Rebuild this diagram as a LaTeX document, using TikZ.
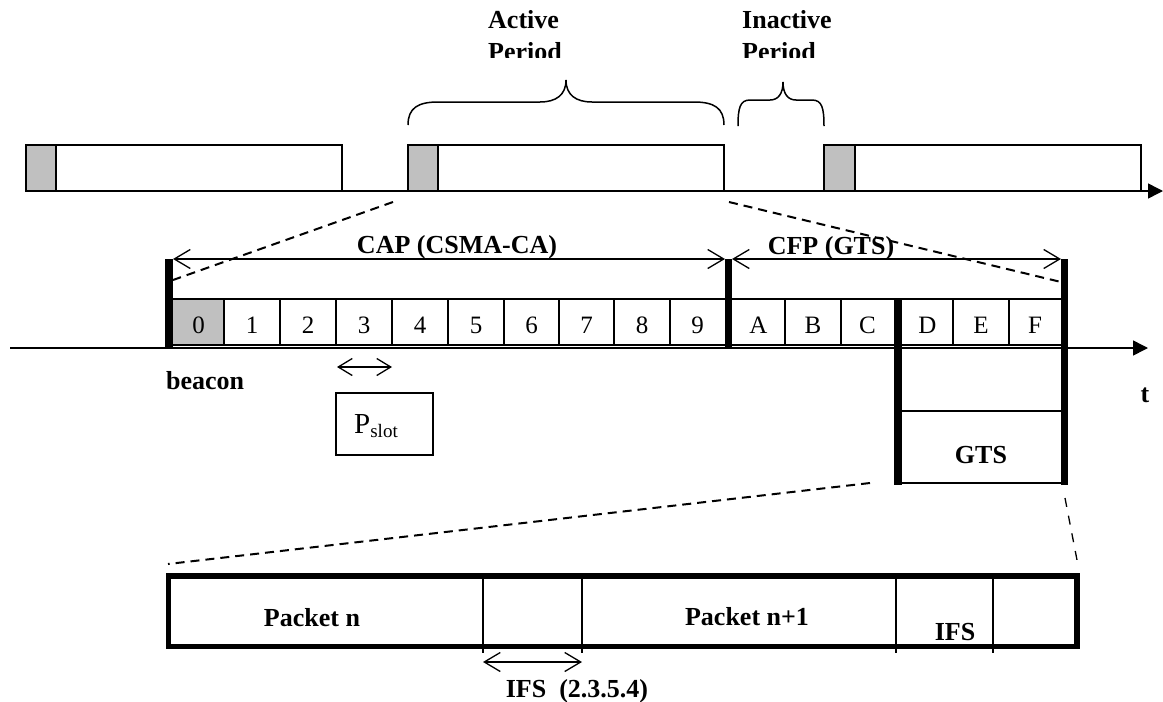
\documentclass[tikz,border=0pt]{standalone}
\usepackage{fontspec}
\setmainfont{Liberation Serif}
\usetikzlibrary{arrows.meta}
\definecolor{silver}{RGB}{192,192,192}
\begin{document}
\begin{tikzpicture}[x=1pt,y=-1pt,
  thin/.style={line width=1.5pt},
  barb/.style={line width=1.3pt,{Straight Barb[length=16pt,width=19pt]}-{Straight Barb[length=16pt,width=19pt]}},
  smallbarb/.style={line width=1.3pt,{Straight Barb[length=14pt,width=17pt]}-{Straight Barb[length=14pt,width=17pt]}},
  thickbar/.style={line width=7.5pt,line cap=butt},
  dashline/.style={line width=2pt,dash pattern=on 9pt off 6pt},
  lbl/.style={font=\fontsize{26}{30}\selectfont\bfseries,inner sep=0pt},
  dig/.style={font=\fontsize{25}{30}\selectfont,inner sep=0pt,anchor=base},
  axisarrow/.style={line width=1.5pt,-{Triangle[length=15pt,width=15pt]}}
]
\useasboundingbox (0,0) rectangle (1163,702);

% ---------- top timeline ----------
\draw[thin,fill=white] (26,145) rectangle (342,191);
\draw[thin,fill=silver] (26,145) rectangle (56,191);
\draw[thin,fill=white] (408,145) rectangle (724,191);
\draw[thin,fill=silver] (408,145) rectangle (438,191);
\draw[thin,fill=white] (824,145) rectangle (1141,191);
\draw[thin,fill=silver] (824,145) rectangle (855,191);
\coordinate (topstart) at (26,191);
\coordinate (topend) at (1163,191);
\draw[axisarrow] (topstart) -- (topend);

% braces
\draw[thin] (408,125) .. controls (408,108) and (418,102) .. (438,102) -- (540,102)
  .. controls (556,102) and (566,95) .. (566,80)
  .. controls (566,95) and (576,102) .. (592,102) -- (694,102)
  .. controls (714,102) and (724,108) .. (724,125);
\draw[thin] (738,126) .. controls (738,108) and (740,100) .. (750,100) -- (770,100)
  .. controls (778,100) and (783,94) .. (783,82)
  .. controls (783,94) and (788,100) .. (796,100) -- (812,100)
  .. controls (822,100) and (824,108) .. (824,126);

% period labels (second line clipped as in the original)
\node[lbl,anchor=base west] (act1) at (488,28) {Active};
\begin{scope}
  \clip (480,30) rectangle (600,57.5);
  \node[lbl,anchor=base west] (act2) at (488,60) {Period};
\end{scope}
\node[lbl,anchor=base west] (inact1) at (742,28) {Inactive};
\begin{scope}
  \clip (735,30) rectangle (860,57.5);
  \node[lbl,anchor=base west] (inact2) at (742,60) {Period};
\end{scope}

% zoom dashed lines top
\coordinate (z1a) at (393,202);
\coordinate (z1b) at (173,280);
\coordinate (z2a) at (729,202);
\coordinate (z2b) at (1061,282);
\draw[dashline] (z1a) -- (z1b);
\draw[dashline] (z2a) -- (z2b);

% ---------- superframe ----------
\coordinate (capL) at (173,259);
\coordinate (capR) at (725,259);
\coordinate (cfpL) at (732,259);
\coordinate (cfpR) at (1061,259);
\draw[barb] (capL) -- (capR);
\draw[barb] (cfpL) -- (cfpR);
\node[lbl,anchor=base] (cap) at (457,253) {CAP (CSMA-CA)};
\node[lbl,anchor=base] (cfp) at (831,254) {CFP (GTS)};

\fill[silver] (173,299) rectangle (224,345);
\draw[thin] (173,299) -- (1061,299);
\draw[thin] (173,345) -- (1061,345);
\foreach \x in {224,280,336,392,448,504,559,614,670,785,841,953,1009}
  \draw[thin] (\x,299) -- (\x,345);

\foreach \lab/\x [count=\i] in {0/198.5,1/252,2/308,3/364,4/420,5/476,6/531.5,7/586.5,8/642,9/697.5,A/758.5,B/813,C/867.5,D/927.5,E/981,F/1035}
  \node[dig] (slot\i) at (\x,333) {\lab};

\coordinate (axL) at (10,348);
\coordinate (axR) at (1148,348);
\draw[axisarrow] (axL) -- (axR);

% thick bars
\draw[thickbar] (169,259) -- (169,347);
\draw[thickbar] (728.5,259) -- (728.5,347);
\draw[thickbar] (898,299) -- (898,485);
\draw[thickbar] (1064.5,259) -- (1064.5,485);

% GTS box
\draw[thin] (902,411) -- (1061,411);
\draw[thin] (902,483) -- (1061,483);
\node[lbl,anchor=base] (gts) at (981,463) {GTS};

\node[lbl,anchor=base west] (beacon) at (166,389) {beacon};
\node[lbl,anchor=base] (t) at (1145,402) {t};

% P slot
\coordinate (psA) at (337,367);
\coordinate (psB) at (392,367);
\draw[smallbarb] (psA) -- (psB);
\draw[thin] (336,393) rectangle (433,455);
\node[inner sep=0pt,anchor=base west] (pslot) at (354,433)
  {\fontsize{29}{30}\selectfont P\raisebox{-4pt}{\fontsize{19}{20}\selectfont slot}};

% ---------- GTS expansion ----------
\coordinate (z3a) at (870,483);
\coordinate (z3b) at (168,564);
\coordinate (z4a) at (1065,498);
\coordinate (z4b) at (1077,560);
\draw[dashline] (z3a) -- (z3b);
\draw[line width=1.3pt,dash pattern=on 9pt off 9pt] (z4a) -- (z4b);

\draw[line width=5.5pt] (168.5,576) rectangle (1077,646.5);
\foreach \x in {483,582,896,993}
  \draw[thin] (\x,578) -- (\x,653);
\node[lbl,anchor=base] (pn) at (312,626) {Packet n};
\node[lbl,anchor=base] (pn1) at (747,625) {Packet n+1};
\node[lbl,anchor=base] (ifs) at (955,640) {IFS};

\coordinate (ifsA) at (483,662);
\coordinate (ifsB) at (582,662);
\draw[barb] (ifsA) -- (ifsB);
\node[lbl,anchor=base] (ifslab) at (577,697) {IFS\ \ (2.3.5.4)};
\end{tikzpicture}
\end{document}
